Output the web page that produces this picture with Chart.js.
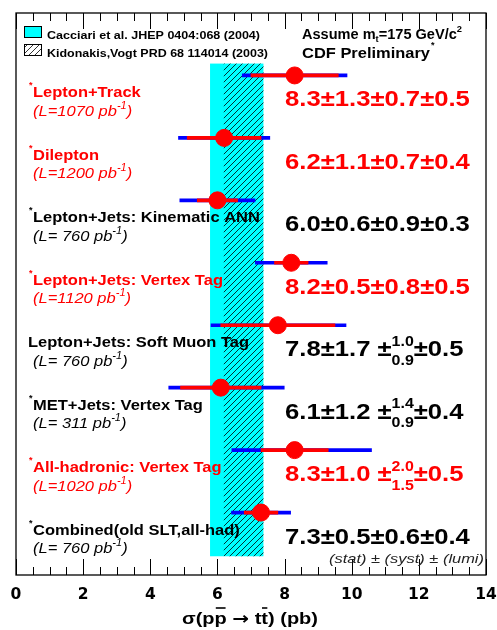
<!DOCTYPE html>
<html><head><meta charset="utf-8">
<script src="https://cdn.jsdelivr.net/npm/chart.js@4.4.0/dist/chart.umd.min.js"></script>
<style>html,body{margin:0;padding:0;background:#fff;}</style>
</head><body>
<canvas id="c" width="497" height="630"></canvas>
<script>
// ---- data ----
const categories = ["Lepton+Track", "Dilepton", "Lepton+Jets: Kinematic ANN", "Lepton+Jets: Vertex Tag",
  "Lepton+Jets: Soft Muon Tag", "MET+Jets: Vertex Tag", "All-hadronic: Vertex Tag", "Combined(old SLT,all-had)"];
const luminosity = ["1070", "1200", " 760", "1120", " 760", " 311", "1020", " 760"];
const central  = [8.3, 6.2, 6.0, 8.2, 7.8, 6.1, 8.3, 7.3];
const statErr  = [1.3, 1.1, 0.6, 0.5, 1.7, 1.2, 1.0, 0.5];
const systUp   = [0.7, 0.7, 0.9, 0.8, 1.0, 1.4, 2.0, 0.6];
const systDown = [0.7, 0.7, 0.9, 0.8, 0.9, 0.9, 1.5, 0.6];
const lumiErr  = [0.5, 0.4, 0.3, 0.5, 0.5, 0.4, 0.5, 0.4];
const totalLo  = [6.74, 4.84, 4.88, 7.13, 5.81, 4.55, 6.43, 6.42];
const totalHi  = [9.86, 7.56, 7.12, 9.27, 9.83, 7.99, 10.59, 8.18];
const preliminary = [true, true, true, true, false, true, true, true];
const newResult   = [true, true, false, true, false, false, true, false];
const xTicks = [0, 2, 4, 6, 8, 10, 12, 14];
const cacciariBand = [5.78, 7.37];
const kidonakisBand = [6.19, 7.37];
const legendLabels = ["Cacciari et al. JHEP 0404:068 (2004)", "Kidonakis,Vogt PRD 68 114014 (2003)"];

// ---- drawing helpers ----
const FAM = '"Liberation Sans", Arial, sans-serif';
const fnt = (size, weight = 'bold', style = 'normal') => `${style} ${weight} ${size}px ${FAM}`;
const RED = '#ff0000', BLUE = '#0000ff', CYAN = '#00ffff';

function measureParts(ctx, parts) {
  let w = 0;
  parts.forEach(p => {
    ctx.font = p.font;
    p.w = p.stack ? Math.max(ctx.measureText(p.stack[0]).width, ctx.measureText(p.stack[1]).width)
                  : ctx.measureText(p.t).width;
    w += p.w;
  });
  return w;
}
function drawParts(ctx, parts, x, y, color, opt) {
  const nat = measureParts(ctx, parts);
  const sx = opt.width ? opt.width / nat : (opt.sx || 1);
  ctx.save();
  ctx.translate(x, y); ctx.scale(sx, 1);
  ctx.fillStyle = color; ctx.strokeStyle = color;
  ctx.textBaseline = 'alphabetic'; ctx.textAlign = 'left';
  let cx = 0;
  parts.forEach(p => {
    ctx.font = p.font;
    if (p.stack) {
      ctx.fillText(p.stack[0], cx, p.dyTop);
      ctx.fillText(p.stack[1], cx, p.dyBot);
    } else {
      ctx.fillText(p.t, cx, p.dy || 0);
      if (p.over !== undefined) {
        ctx.lineWidth = 1.6;
        ctx.beginPath(); ctx.moveTo(cx + p.w * 0.1, p.over); ctx.lineTo(cx + p.w * 0.9, p.over); ctx.stroke();
      }
    }
    cx += p.w;
  });
  ctx.restore();
}
function hatchPattern(ctx) {
  const c = document.createElement('canvas'); c.width = 6; c.height = 6;
  const g = c.getContext('2d');
  g.strokeStyle = '#000'; g.lineWidth = 0.8;
  g.beginPath();
  g.moveTo(0, 6); g.lineTo(6, 0);
  g.moveTo(-1, 1); g.lineTo(1, -1);
  g.moveTo(5, 7); g.lineTo(7, 5);
  g.stroke();
  return ctx.createPattern(c, 'repeat');
}
const fmt = v => v.toFixed(1);

const decor = {
  id: 'decor',
  beforeDatasetsDraw(chart) {
    const ctx = chart.ctx, xs = chart.scales.x, ys = chart.scales.y;
    const yTop = ys.getPixelForValue(-0.19), yBot = ys.getPixelForValue(7.70);
    const c0 = xs.getPixelForValue(cacciariBand[0]), c1 = xs.getPixelForValue(cacciariBand[1]);
    const k0 = xs.getPixelForValue(kidonakisBand[0]), k1 = xs.getPixelForValue(kidonakisBand[1]);
    ctx.save();
    ctx.fillStyle = CYAN; ctx.fillRect(c0, yTop, c1 - c0, yBot - yTop);
    ctx.fillStyle = hatchPattern(ctx); ctx.fillRect(k0, yTop, k1 - k0, yBot - yTop);
    ctx.restore();
  },
  afterDraw(chart) {
    const ctx = chart.ctx, xs = chart.scales.x, ys = chart.scales.y, a = chart.chartArea;
    const L0 = xs.getPixelForValue(0), R0 = xs.getPixelForValue(14);
    ctx.save();
    // frame
    ctx.strokeStyle = '#000'; ctx.lineWidth = 1.3;
    ctx.strokeRect(L0, a.top, R0 - L0, a.bottom - a.top);
    // ticks (inside, bottom and top)
    ctx.lineWidth = 1;
    ctx.beginPath();
    for (let v = 0; v <= 14.001; v += 0.5) {
      const px = Math.round(xs.getPixelForValue(v)) + 0.5;
      const major = Math.abs(v % 2) < 1e-6;
      const L = major ? 16 : 8;
      ctx.moveTo(px, a.bottom); ctx.lineTo(px, a.bottom - L);
      ctx.moveTo(px, a.top); ctx.lineTo(px, a.top + L);
    }
    ctx.stroke();

    // legend boxes
    ctx.fillStyle = CYAN; ctx.fillRect(24, 26, 18, 12);
    ctx.strokeStyle = '#000'; ctx.lineWidth = 1; ctx.strokeRect(24.5, 26.5, 17, 11);
    ctx.fillStyle = '#fff'; ctx.fillRect(24, 44, 18, 12);
    ctx.fillStyle = hatchPattern(ctx); ctx.fillRect(24, 44, 18, 12);
    ctx.strokeRect(24.5, 44.5, 17, 11);
    drawParts(ctx, [{t: legendLabels[0], font: fnt(11.5)}], 47, 39, '#000', {width: 213});
    drawParts(ctx, [{t: legendLabels[1], font: fnt(11.5)}], 47, 57, '#000', {width: 221});
    drawParts(ctx, [
      {t: 'Assume m', font: fnt(14)},
      {t: 't', font: fnt(9), dy: 3},
      {t: '=175 GeV/c', font: fnt(14)},
      {t: '2', font: fnt(9), dy: -7}
    ], 302, 39, '#000', {width: 160});
    drawParts(ctx, [{t: 'CDF Preliminary', font: fnt(14.5)}], 302, 58, '#000', {width: 128});
    drawParts(ctx, [{t: '*', font: fnt(9)}], 431, 48, '#000', {sx: 1});

    // row labels and results
    categories.forEach((name, i) => {
      const yc = ys.getPixelForValue(i);
      const col = newResult[i] ? RED : '#000';
      if (preliminary[i]) drawParts(ctx, [{t: '*', font: fnt(9)}], 29, yc + 13, col, {sx: 1});
      const tx = preliminary[i] ? 33 : 28;
      drawParts(ctx, [{t: name, font: fnt(15)}], tx, yc + 22, col, {sx: 1.1});
      drawParts(ctx, [
        {t: '(L=' + luminosity[i] + ' pb', font: fnt(15, 'normal', 'italic')},
        {t: '-1', font: fnt(10, 'normal', 'italic'), dy: -7},
        {t: ')', font: fnt(15, 'normal', 'italic')}
      ], 33, yc + 40.5, col, {sx: 1.1});

      let parts;
      if (systUp[i] === systDown[i]) {
        parts = [{t: `${fmt(central[i])}±${fmt(statErr[i])}±${fmt(systUp[i])}±${fmt(lumiErr[i])}`, font: fnt(22.5)}];
      } else {
        parts = [
          {t: `${fmt(central[i])}±${fmt(statErr[i])} ±`, font: fnt(22.5)},
          {stack: [fmt(systUp[i]), fmt(systDown[i])], font: fnt(14), dyTop: -10.5, dyBot: 8.5},
          {t: `±${fmt(lumiErr[i])}`, font: fnt(22.5)}
        ];
      }
      drawParts(ctx, parts, 285, yc + 31, col, {sx: 1.14});
    });

    drawParts(ctx, [{t: '(stat) ± (syst) ± (lumi)', font: fnt(13, 'normal', 'italic')}], 329, 563, '#222', {width: 155});

    // x axis title
    drawParts(ctx, [
      {t: 'σ(p', font: fnt(17)},
      {t: 'p', font: fnt(17), over: -16},
      {t: ' ', font: fnt(17)},
      {t: '→', font: 'normal bold 17px "DejaVu Sans", sans-serif'},
      {t: ' t', font: fnt(17)},
      {t: 't', font: fnt(17), over: -16},
      {t: ') (pb)', font: fnt(17)}
    ], 182, 624, '#000', {width: 136});
    ctx.restore();
  }
};

new Chart(document.getElementById('c'), {
  type: 'bar',
  data: {
    datasets: [
      { type: 'scatter', label: 'Measurement', data: central.map((v, i) => ({x: v, y: i})),
        backgroundColor: RED, borderColor: RED, pointRadius: 8.5, pointBorderWidth: 1, order: 1 },
      { type: 'bar', label: 'Statistical', indexAxis: 'y', grouped: false,
        data: central.map((v, i) => ({y: i, x: [v - statErr[i], v + statErr[i]]})),
        backgroundColor: RED, barThickness: 3, order: 2 },
      { type: 'bar', label: 'Total', indexAxis: 'y', grouped: false,
        data: totalLo.map((v, i) => ({y: i, x: [v, totalHi[i]]})),
        backgroundColor: BLUE, barThickness: 3, order: 3 }
    ]
  },
  options: {
    responsive: false, animation: false, devicePixelRatio: 1,
    layout: {padding: {left: 16, right: 11, top: 13, bottom: 0}},
    plugins: {legend: {display: false}, tooltip: {enabled: false}},
    scales: {
      x: {
        type: 'linear', min: 0, max: 14, position: 'bottom', offset: false,
        afterBuildTicks: s => { s.ticks = xTicks.map(v => ({value: v})); },
        afterFit: s => { s.height = 55; s.paddingLeft = 0; s.paddingRight = 0; },
        grid: {display: false, drawTicks: false},
        border: {display: false},
        ticks: {font: {family: '"DejaVu Sans", sans-serif', weight: 'bold', size: 15.5}, color: '#000', padding: 11, maxRotation: 0, autoSkip: false}
      },
      y: {type: 'linear', min: -1, max: 8, reverse: true, display: false, offset: false}
    }
  },
  plugins: [decor]
});
</script>
</body></html>
